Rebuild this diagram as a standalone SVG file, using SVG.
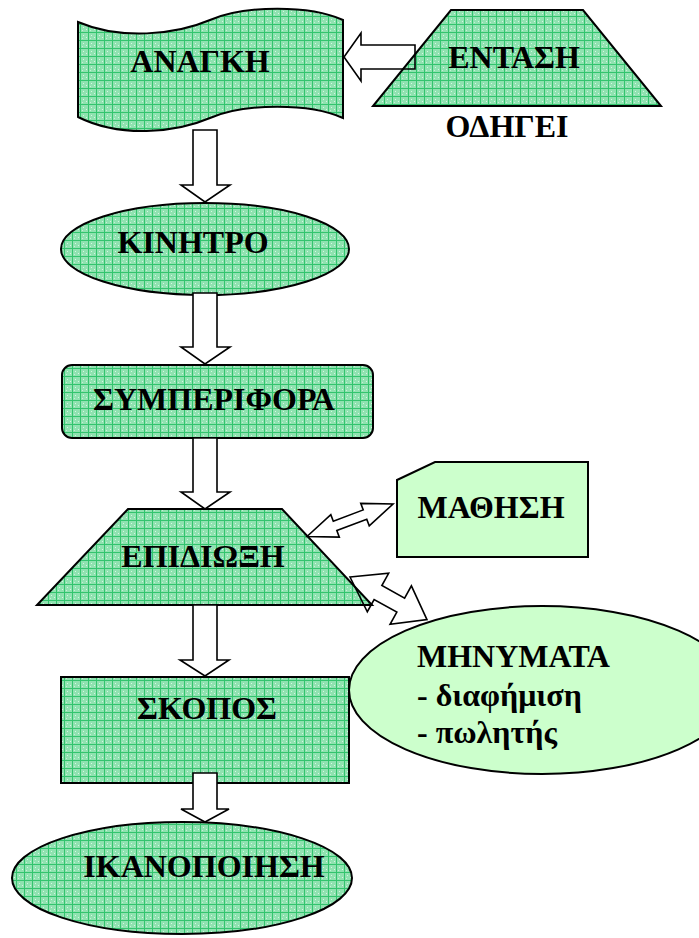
<svg xmlns="http://www.w3.org/2000/svg" width="699" height="938" viewBox="0 0 699 938">
<defs>
<pattern id="grid" width="8" height="8" patternUnits="userSpaceOnUse">
<rect width="8" height="8" fill="#8fe2b0"/>
<path d="M0,0.5H8M0.5,0V8" stroke="#33c46e" stroke-width="1"/>
<rect x="3" y="3" width="1" height="1" fill="#d6f6e3"/>
<rect x="6" y="5" width="1" height="1" fill="#d6f6e3"/>
<rect x="2" y="6" width="1" height="1" fill="#c6f0d6"/>
</pattern>
</defs>
<style>
.g{fill:url(#grid);stroke:#000;stroke-width:2}
.l{fill:#ccffcc;stroke:#000;stroke-width:2}
.t{font-family:"Liberation Serif","Times New Roman",serif;font-weight:bold;font-size:32px;fill:#000}
.m{text-anchor:middle}
.a{fill:#fff;stroke:#000;stroke-width:1.6;stroke-linejoin:miter}
.o{fill:none;stroke:#000;stroke-width:1.6;stroke-linejoin:miter}
</style>
<g id="anagki">
<path class="g" d="M78,22 C120,40 175,35 210,20 C245,5 310,5 343,20 V118 C310,103 245,103 210,118 C175,133 120,138 78,117 Z"/>
<text class="t m" x="200" y="72">ΑΝΑΓΚΗ</text>
</g>
<g id="entasi">
<path class="g" d="M451,10 H583 L661,106 H373 Z"/>
<text class="t m" x="514" y="68">ΕΝΤΑΣΗ</text>
</g>
<g id="odigei">
<text class="t m" x="507" y="137">ΟΔΗΓΕΙ</text>
</g>
<g id="kinitro">
<ellipse class="g" cx="205" cy="249" rx="144" ry="46"/>
<text class="t m" x="193" y="253">ΚΙΝΗΤΡΟ</text>
</g>
<g id="symperifora">
<rect class="g" x="62" y="365" width="311" height="73" rx="10"/>
<text class="t m" x="214" y="410">ΣΥΜΠΕΡΙΦΟΡΑ</text>
</g>
<g id="epidioxi">
<path class="g" d="M128,509 H282 L372,605 H37 Z"/>
<text class="t m" x="203" y="567">ΕΠΙΔΙΩΞΗ</text>
</g>
<g id="mathisi">
<path class="l" d="M397,480 L435,462 H588 V557 H397 Z"/>
<text class="t m" x="491" y="518">ΜΑΘΗΣΗ</text>
</g>
<g id="skopos">
<rect class="g" x="61" y="677" width="288" height="106"/>
<text class="t m" x="207" y="719">ΣΚΟΠΟΣ</text>
</g>
<g id="minymata">
<ellipse class="l" cx="542" cy="690" rx="193" ry="84"/>
<text class="t" x="417" y="667">ΜΗΝΥΜΑΤΑ</text>
<text class="t" x="417" y="706">- διαφήμιση</text>
<text class="t" x="417" y="743">- πωλητής</text>
</g>
<g id="ikanopoiisi">
<ellipse class="g" cx="182" cy="878" rx="170" ry="56"/>
<text class="t m" x="204" y="877">ΙΚΑΝΟΠΟΙΗΣΗ</text>
</g>
<g id="connectors">
<path class="o" d="M344,57 L361,33 V45 H415 V69 H361 V81 Z"/>
<path class="a" d="M193,130 V185 H181 L205,202 L230,185 H217 V130 Z"/>
<path class="a" d="M193,293 V347 H181 L205,364 L230,347 H217 V293 Z"/>
<path class="a" d="M193,438 V492 H181 L205,509 L230,492 H217 V438 Z"/>
<path class="a" d="M193,605 V660 H180 L205,676 L229,660 H217 V605 Z"/>
<path class="a" d="M193,773 V809 H181 L205,822 L229,809 H217 V773 Z"/>
<path class="o" transform="translate(307,536.5) rotate(-20.7)" d="M0,0 L30,-12 V-5 H62 V-12 L92,0 L62,12 V5 H30 V12 Z"/>
<path class="o" transform="translate(350,577) rotate(29)" d="M0,0 L32,-22 V-8 H58 V-22 L88,0 L58,22 V8 H32 V22 Z"/>
</g>
</svg>
